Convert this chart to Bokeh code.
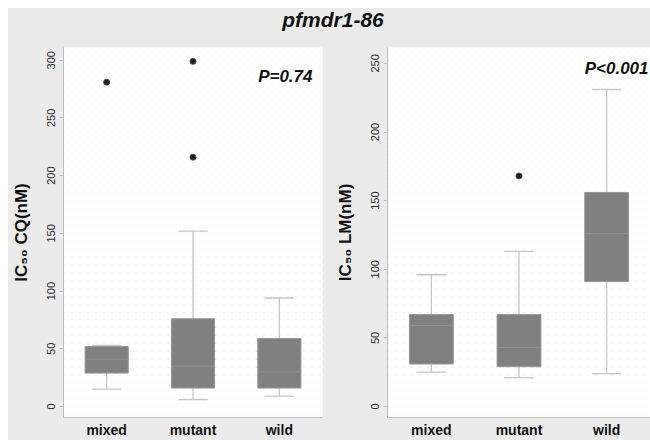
from bokeh.plotting import figure
from bokeh.models import (ColumnDataSource, Range1d, FactorRange, Label, Div,
                          FixedTicker, Grid, SingleIntervalTicker)
from bokeh.layouts import column, row
from bokeh.transform import dodge
from bokeh.embed import file_html
from bokeh.resources import INLINE

categories = ["mixed", "mutant", "wild"]

# IC50 CQ (nM)
cq_lower = [15, 6, 9]
cq_q1 = [29, 16, 16]
cq_median = [41, 35, 30]
cq_q3 = [52, 76, 59]
cq_upper = [53, 152, 94]
cq_out_group = ["mixed", "mutant", "mutant"]
cq_out_value = [281, 299, 216]

# IC50 LM (nM)
lm_lower = [25, 21, 24]
lm_q1 = [31, 29, 91]
lm_median = [59, 43, 126]
lm_q3 = [67, 67, 156]
lm_upper = [96, 113, 231]
lm_out_group = ["mutant"]
lm_out_value = [168]

cq_ticks = [0, 50, 100, 150, 200, 250, 300]
lm_ticks = [0, 50, 100, 150, 200, 250]

FONT = "Liberation Sans"
BG = "#ebebeb"


def make_panel(lower, q1, med, q3, upper, og, ov, ylab, yr, ticks, ptxt,
               width, left, right, pt_x, pt_y):
    p = figure(x_range=FactorRange(*categories, range_padding=0),
               y_range=Range1d(*yr), width=width, height=406,
               min_border_left=left, min_border_right=right,
               min_border_top=13, min_border_bottom=21, margin=0,
               output_backend="svg", toolbar_location=None)
    p.background_fill_color = "white"
    p.border_fill_color = BG
    p.outline_line_color = None
    p.xgrid.grid_line_color = None
    p.ygrid.grid_line_color = None

    # faint dotted texture of the plot region
    g = Grid(dimension=1, ticker=SingleIntervalTicker(interval=(yr[1] - yr[0]) / 47),
             grid_line_color="#dadada", grid_line_dash="1 7", grid_line_width=1)
    p.add_layout(g)

    src = ColumnDataSource(dict(cat=categories, lower=lower, q1=q1, med=med,
                                q3=q3, upper=upper))
    wcol = "#c6c6c6"
    p.segment(x0="cat", y0="q3", x1="cat", y1="upper", source=src,
              line_color=wcol, line_width=1.3)
    p.segment(x0="cat", y0="q1", x1="cat", y1="lower", source=src,
              line_color=wcol, line_width=1.3)
    p.segment(x0=dodge("cat", -0.17, range=p.x_range), y0="upper",
              x1=dodge("cat", 0.17, range=p.x_range), y1="upper",
              source=src, line_color=wcol, line_width=1.3)
    p.segment(x0=dodge("cat", -0.17, range=p.x_range), y0="lower",
              x1=dodge("cat", 0.17, range=p.x_range), y1="lower",
              source=src, line_color=wcol, line_width=1.3)
    p.vbar(x="cat", width=0.5, bottom="q1", top="q3", source=src,
           fill_color="#808080", line_color="#979797", line_width=1)
    p.segment(x0=dodge("cat", -0.25, range=p.x_range), y0="med",
              x1=dodge("cat", 0.25, range=p.x_range), y1="med",
              source=src, line_color="#8f8f8f", line_width=1)

    osrc = ColumnDataSource(dict(cat=og, val=ov))
    p.scatter(x="cat", y="val", source=osrc, size=6, fill_color="#1e1e1e",
              line_color="#4a4a4a")

    p.add_layout(Label(x=pt_x, y=pt_y, x_units="screen", y_units="data",
                       text=ptxt, text_font=FONT,
                       text_font_size="17px", text_font_style="bold italic",
                       text_align="right", text_baseline="middle",
                       text_color="#111111"))

    ax = p.yaxis[0]
    ax.ticker = FixedTicker(ticks=ticks)
    ax.axis_label = ylab
    ax.axis_label_text_font = FONT
    ax.axis_label_text_font_size = "17px"
    ax.axis_label_text_font_style = "bold"
    ax.axis_label_text_color = "#111111"
    ax.axis_label_standoff = 14
    ax.major_label_orientation = "vertical"
    ax.major_label_text_font = FONT
    ax.major_label_text_font_size = "11px"
    ax.major_label_text_color = "#2a2a2a"
    ax.major_label_standoff = 4
    ax.axis_line_color = "#bdbdbd"
    ax.major_tick_line_color = "#bdbdbd"
    ax.major_tick_out = 4
    ax.major_tick_in = 0
    ax.minor_tick_line_color = None

    xa = p.xaxis[0]
    xa.axis_line_color = "#bdbdbd"
    xa.major_tick_line_color = None
    xa.minor_tick_line_color = None
    xa.major_tick_out = 0
    xa.major_label_text_font = FONT
    xa.major_label_text_font_size = "14px"
    xa.major_label_text_font_style = "bold"
    xa.major_label_text_color = "#111111"
    xa.major_label_standoff = 4
    return p


p1 = make_panel(cq_lower, cq_q1, cq_median, cq_q3, cq_upper, cq_out_group,
                cq_out_value, "IC\u2085\u2080 CQ(nM)", (-9.5, 311), cq_ticks,
                "P=0.74", 322, 51, 8, 249, 286)
p2 = make_panel(lm_lower, lm_q1, lm_median, lm_q3, lm_upper, lm_out_group,
                lm_out_value, "IC\u2085\u2080 LM(nM)", (-8, 261.6), lm_ticks,
                "P<0.001", 320, 57, 0, 261, 246)

title = Div(text="<b><i>pfmdr1-86</i></b>", width=642, height=26, margin=0,
            styles={"font-family": FONT,
                    "font-size": "21px", "text-align": "center",
                    "line-height": "24px", "color": "#111111",
                    "padding-left": "8px", "box-sizing": "border-box"})

layout = column(title, row(p1, p2, spacing=0, margin=0), spacing=0,
                margin=(8, 0, 0, 8), styles={"background-color": BG})

open("out.html", "w").write(file_html(layout, INLINE))
